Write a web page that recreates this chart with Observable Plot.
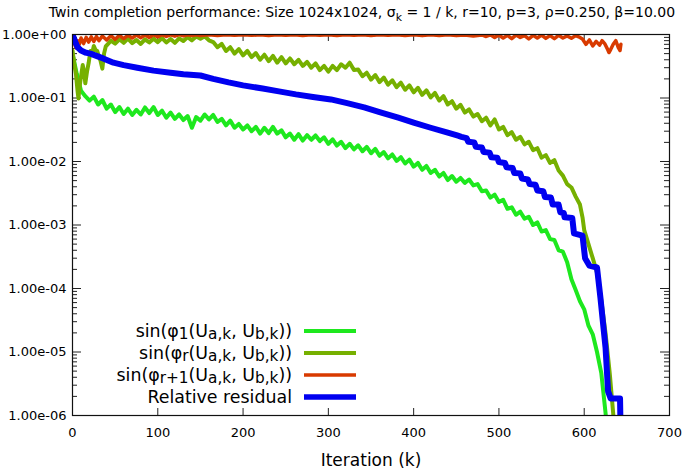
<!DOCTYPE html>
<html><head><meta charset="utf-8">
<script src="https://cdn.jsdelivr.net/npm/d3@7"></script>
<script src="https://cdn.jsdelivr.net/npm/@observablehq/plot@0.6"></script>
<style>
html,body{margin:0;padding:0;background:#fff;}
#chart svg{display:block;}
</style></head><body><div id="chart"></div>
<script>
// ---- data (iteration k, value) ----
const phi1 = [[0,0.5],[5,0.24],[10,0.13],[15,0.107],[20,0.091],[25,0.105],[30,0.079],[35,0.093],[40,0.068],[45,0.079],[50,0.06],[55,0.072],[60,0.056],[65,0.068],[70,0.054],[75,0.065],[80,0.055],[85,0.071],[90,0.058],[95,0.072],[100,0.054],[105,0.063],[110,0.049],[115,0.059],[120,0.047],[125,0.055],[130,0.045],[135,0.052],[140,0.034],[145,0.05],[150,0.044],[155,0.055],[160,0.046],[165,0.054],[170,0.042],[175,0.047],[180,0.037],[185,0.044],[190,0.034],[195,0.039],[200,0.032],[205,0.037],[210,0.03],[215,0.035],[220,0.0275],[225,0.034],[230,0.028],[235,0.035],[240,0.0275],[245,0.031],[250,0.024],[255,0.0275],[260,0.022],[265,0.027],[270,0.0214],[275,0.026],[280,0.022],[285,0.0257],[290,0.021],[295,0.024],[300,0.019],[305,0.0224],[310,0.0178],[315,0.0204],[320,0.0162],[325,0.019],[330,0.0155],[335,0.018],[340,0.0145],[345,0.017],[350,0.0135],[355,0.0158],[360,0.0123],[365,0.0141],[370,0.0112],[375,0.0129],[380,0.0102],[385,0.0117],[390,0.0093],[395,0.0107],[400,0.0083],[405,0.0095],[410,0.0074],[415,0.0085],[420,0.0066],[425,0.0074],[430,0.0058],[435,0.0066],[440,0.0051],[445,0.0059],[450,0.0048],[455,0.0055],[460,0.0046],[465,0.0052],[470,0.0042],[475,0.0044],[480,0.0034],[485,0.0035],[490,0.0027],[495,0.003],[500,0.0023],[505,0.0025],[510,0.0018],[515,0.0019],[520,0.00145],[525,0.00162],[530,0.00126],[535,0.00135],[540,0.001],[545,0.0011],[550,0.00079],[555,0.00083],[560,0.0006],[565,0.00058],[570,0.0004],[575,0.00038],[580,0.00026],[585,0.00014],[590,9.5e-5],[595,6.3e-5],[600,4.7e-5],[605,2.6e-5],[610,1.9e-5],[615,1e-5],[620,4.7e-6],[625,1.1e-6],[628,4e-7]];

const phiR = [[0,0.56],[2,0.35],[4,0.24],[6,0.126],[7,0.098],[8,0.14],[10,0.22],[12,0.33],[14,0.24],[15,0.17],[17,0.26],[19,0.36],[21,0.55],[23,0.5],[25,0.66],[27,0.57],[29,0.55],[31,0.45],[33,0.38],[35,0.29],[37,0.5],[39,0.65],[42,0.72],[45,0.8],[50,0.72],[55,0.84],[60,0.74],[65,0.86],[70,0.73],[75,0.82],[80,0.71],[85,0.84],[90,0.75],[95,0.86],[100,0.76],[105,0.88],[110,0.75],[115,0.85],[120,0.74],[125,0.87],[130,0.79],[135,0.91],[140,0.81],[145,0.93],[150,0.86],[155,0.94],[160,0.81],[165,0.76],[170,0.63],[175,0.71],[180,0.55],[185,0.63],[190,0.5],[195,0.59],[200,0.47],[205,0.55],[210,0.44],[215,0.51],[220,0.4],[225,0.48],[230,0.38],[235,0.46],[240,0.36],[245,0.44],[250,0.35],[255,0.42],[260,0.34],[265,0.4],[270,0.32],[275,0.37],[280,0.3],[285,0.35],[290,0.275],[295,0.32],[300,0.26],[305,0.32],[310,0.275],[315,0.34],[320,0.3],[325,0.36],[330,0.275],[335,0.28],[340,0.22],[345,0.25],[350,0.195],[355,0.23],[360,0.178],[365,0.21],[370,0.162],[375,0.19],[380,0.148],[385,0.174],[390,0.135],[395,0.158],[400,0.123],[405,0.145],[410,0.112],[415,0.132],[420,0.102],[425,0.12],[430,0.091],[435,0.107],[440,0.079],[445,0.089],[450,0.068],[455,0.078],[460,0.059],[465,0.066],[470,0.051],[475,0.056],[480,0.043],[485,0.049],[490,0.037],[495,0.046],[500,0.032],[505,0.035],[510,0.026],[515,0.029],[520,0.022],[525,0.0245],[530,0.0186],[535,0.0204],[540,0.0151],[545,0.0162],[550,0.0115],[555,0.0126],[560,0.0095],[565,0.0105],[570,0.0072],[575,0.006],[580,0.0044],[585,0.0039],[590,0.0028],[595,0.0021],[598,0.00132],[600,0.00083],[605,0.0005],[610,0.0003],[615,0.000178],[620,6.6e-5],[625,2e-5],[630,4.5e-6],[634,1.07e-6],[636,5e-7]];

const phiR1 = [[0,0.9],[2,0.75],[4,0.62],[6,0.8],[8,0.7],[10,0.88],[13,0.72],[16,0.9],[19,0.76],[22,0.92],[25,0.78],[28,0.93],[31,0.8],[35,0.95],[40,0.82],[45,0.96],[50,0.84],[55,0.97],[60,0.86],[65,0.97],[70,0.88],[75,0.98],[80,0.89],[85,0.98],[90,0.9],[95,0.99],[100,0.92],[105,0.99],[110,0.93],[115,0.99],[120,0.94],[125,0.995],[130,0.95],[135,0.99],[140,0.96],[145,0.99],[150,0.965],[160,0.99],[170,0.965],[180,0.99],[190,0.97],[200,0.99],[210,0.97],[220,0.99],[230,0.965],[240,0.99],[250,0.97],[260,0.99],[270,0.965],[280,0.99],[290,0.97],[300,0.99],[310,0.965],[320,0.99],[330,0.97],[340,0.99],[350,0.965],[360,0.99],[370,0.97],[380,0.99],[390,0.965],[400,0.99],[410,0.96],[420,0.99],[430,0.965],[440,0.99],[450,0.96],[460,0.985],[470,0.95],[480,0.985],[485,0.93],[490,0.99],[495,0.9],[500,0.98],[505,0.88],[510,0.97],[515,0.86],[520,0.98],[525,0.9],[530,0.96],[535,0.85],[540,0.97],[545,0.88],[550,0.98],[555,0.87],[560,0.96],[565,0.86],[570,0.97],[575,0.88],[580,0.95],[585,0.87],[590,0.96],[595,0.9],[598,0.85],[602,0.7],[606,0.82],[610,0.66],[614,0.78],[618,0.68],[621,0.8],[624,0.72],[627,0.6],[629,0.52],[631,0.58],[634,0.7],[637,0.8],[640,0.62],[642,0.56],[643,0.7]];

const residual = [[0,1.0],[2,0.85],[4,0.72],[6,0.63],[10,0.56],[15,0.52],[21,0.5],[28,0.46],[36,0.42],[48,0.36],[60,0.33],[76,0.3],[95,0.27],[115,0.25],[130,0.237],[150,0.226],[165,0.2],[183,0.176],[200,0.158],[223,0.141],[242,0.127],[262,0.114],[282,0.104],[303,0.095],[322,0.083],[342,0.071],[362,0.059],[382,0.049],[400,0.041],[420,0.034],[440,0.0285],[452,0.0255],[456,0.0245],[462,0.0234],[464,0.0204],[471,0.02],[473,0.017],[480,0.0166],[482,0.0141],[489,0.0138],[491,0.0117],[498,0.0115],[500,0.0098],[507,0.0095],[509,0.0081],[516,0.0079],[518,0.0066],[525,0.0065],[527,0.0054],[534,0.0052],[536,0.0044],[543,0.0043],[545,0.0035],[552,0.0034],[554,0.00275],[561,0.0027],[563,0.0021],[570,0.0021],[572,0.00158],[576,0.00155],[577,0.00132],[586,0.00129],[588,0.00074],[598,0.00068],[601,0.0003],[606,0.00023],[615,0.000214],[619,7.2e-5],[625,1.17e-5],[628,2.4e-6],[631,1.86e-6],[642,1.86e-6],[643,3e-7]];

const xTicks = [0,100,200,300,400,500,600,700];
const yMajor = [1,1e-1,1e-2,1e-3,1e-4,1e-5,1e-6];
const yMinor = [];
for (const d of yMajor.slice(1)) for (let m = 2; m <= 9; m++) yMinor.push(m*d);

const seriesColors = ["#1ee81e","#76b000","#d83a00","#0000f0"];
const seriesWidths = [4,4,3.5,6];
const legendWidths = [4,4,3.5,5.5];

const fmt = v => {
  const e = Math.round(Math.log10(v));
  const m = (v/Math.pow(10,e)).toFixed(2);
  return m + "e" + (e < 0 ? "-" : "+") + String(Math.abs(e)).padStart(2,"0");
};

const W = 685, H = 468, ML = 72, MR = 16, MT = 34, MB = 53;
const iw = W-ML-MR, ih = H-MT-MB;
const font = "'DejaVu Sans', sans-serif";
const seriesData = [phi1, phiR, phiR1, residual];

const chart = Plot.plot({
  width: W, height: H,
  marginLeft: ML, marginRight: MR, marginTop: MT, marginBottom: MB,
  style: {fontFamily: font, fontSize: "13px", background: "white", color: "black", overflow: "visible"},
  x: {domain: [0,700]},
  y: {type: "log", domain: [1e-6, 1]},
  marks: [
    Plot.tickY(yMinor, {y: d=>d, insetRight: iw-5, stroke: "#222"}),
    Plot.tickY(yMinor, {y: d=>d, insetLeft: iw-5, stroke: "#222"}),
    Plot.tickY(yMajor, {y: d=>d, insetRight: iw-9, stroke: "#222"}),
    Plot.tickY(yMajor, {y: d=>d, insetLeft: iw-9, stroke: "#222"}),
    Plot.tickX(xTicks, {x: d=>d, insetTop: ih-7, stroke: "#222"}),
    Plot.tickX(xTicks, {x: d=>d, insetBottom: ih-7, stroke: "#222"}),
    ...seriesData.map((s,i) => Plot.line(s, {x: d=>d[0], y: d=>d[1], stroke: seriesColors[i], strokeWidth: seriesWidths[i], strokeLinejoin: "round", clip: true})),
    Plot.frame({stroke: "#111", strokeWidth: 1.2}),
    Plot.axisY({ticks: yMajor, tickFormat: fmt, tickSize: 0, tickPadding: 6, label: null, fontSize: 13}),
    Plot.axisX({ticks: xTicks, tickSize: 0, tickPadding: 12, label: null, fontSize: 13}),
    Plot.text(["Iteration (k)"], {frameAnchor: "bottom", dy: 50, fontSize: 17})
  ]
});
document.getElementById("chart").appendChild(chart);

// ---- title and legend (rich text with subscripts) ----
const svg = d3.select(chart);
function rich(g, parts, size, subScale, shift) {
  const t = g.append("text").style("font-family", font).style("font-size", size + "px");
  let shifted = false;
  for (const p of parts) {
    const ts = t.append("tspan").text(p.t);
    if (p.sub) { ts.attr("dy", shifted ? 0 : size*shift).style("font-size", (size*subScale)+"px"); shifted = true; }
    else if (shifted) { ts.attr("dy", -size*shift); shifted = false; }
  }
  return t;
}
const titleParts = [{t:"Twin completion performance: Size 1024x1024, σ"},{t:"k",sub:true},{t:" = 1 / k, r=10, p=3, ρ=0.250, β=10.00"}];
rich(svg, titleParts, 14, 0.78, 0.28).attr("x", 362).attr("y", 17).attr("text-anchor", "middle");

const legendParts = [
  [{t:"sin(φ"},{t:"1",sub:true},{t:"(U"},{t:"a,k",sub:true},{t:", U"},{t:"b,k",sub:true},{t:"))"}],
  [{t:"sin(φ"},{t:"r",sub:true},{t:"(U"},{t:"a,k",sub:true},{t:", U"},{t:"b,k",sub:true},{t:"))"}],
  [{t:"sin(φ"},{t:"r+1",sub:true},{t:"(U"},{t:"a,k",sub:true},{t:", U"},{t:"b,k",sub:true},{t:"))"}],
  [{t:"Relative residual"}]
];
const legendRowsY = [331, 353, 375, 397];
legendParts.forEach((parts, i) => {
  const g = svg.append("g");
  rich(g, parts, 17.4, 0.88, 0.14).attr("x", 292).attr("y", legendRowsY[i]).attr("dy", "0.33em").attr("text-anchor", "end");
  g.append("line").attr("x1", 304).attr("x2", 356).attr("y1", legendRowsY[i]).attr("y2", legendRowsY[i])
    .attr("stroke", seriesColors[i]).attr("stroke-width", legendWidths[i]);
});
</script>
</body></html>
